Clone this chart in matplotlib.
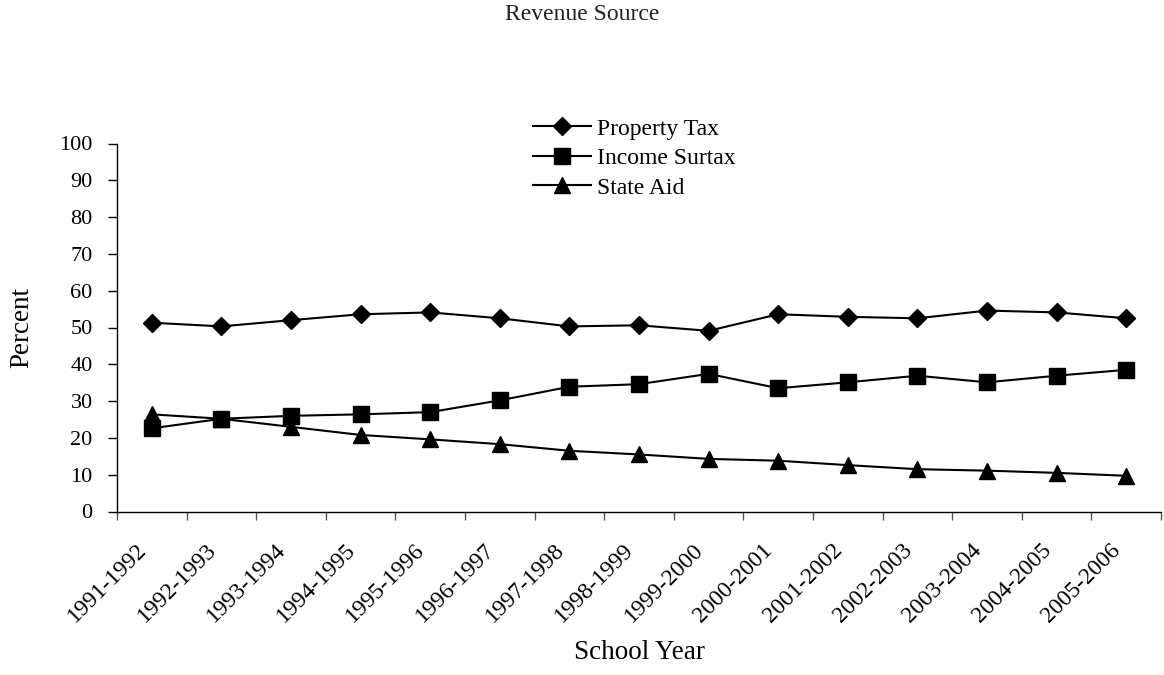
import matplotlib.pyplot as plt
import matplotlib.transforms as mtransforms
import numpy as np

# revenue shares by school year (percent)
years = ['1991-1992', '1992-1993', '1993-1994', '1994-1995', '1995-1996',
         '1996-1997', '1997-1998', '1998-1999', '1999-2000', '2000-2001',
         '2001-2002', '2002-2003', '2003-2004', '2004-2005', '2005-2006']
property_tax = [51.3, 50.3, 52.0, 53.6, 54.1, 52.5, 50.3, 50.6, 49.1, 53.6,
                52.9, 52.5, 54.6, 54.1, 52.5]
income_surtax = [22.6, 25.2, 26.0, 26.4, 27.0, 30.2, 33.9, 34.6, 37.4, 33.5,
                 35.1, 36.9, 35.1, 36.9, 38.5]
state_aid = [26.4, 25.2, 23.0, 20.8, 19.6, 18.3, 16.5, 15.5, 14.3, 13.8,
             12.6, 11.5, 11.1, 10.5, 9.7]

plt.rcParams['font.family'] = ['Liberation Serif', 'DejaVu Serif']

fig = plt.figure(figsize=(11.64, 6.75), dpi=100)
ax = fig.add_axes([117 / 1164, 1 - 511.5 / 675, 1044 / 1164, 368 / 675])

x = np.arange(len(years))
ax.plot(x, property_tax, color='black', lw=1.5, marker='D', ms=8.7, label='Property Tax')
ax.plot(x, income_surtax, color='black', lw=1.5, marker='s', ms=11.5, label='Income Surtax')
ax.plot(x, state_aid, color='black', lw=1.5, marker='^', ms=12, label='State Aid')

ax.set_xlim(-0.5, len(years) - 0.5)
ax.set_ylim(0, 100)
ax.set_yticks(range(0, 101, 10))
ax.tick_params(axis='y', labelsize=16, length=6.5, width=1, pad=11)

# category labels at centres, tick marks on the boundaries
ax.set_xticks(x)
ax.set_xticklabels(years, rotation=45, ha='right', rotation_mode='anchor', fontsize=17)
ax.tick_params(axis='x', length=0, pad=20)
shift = mtransforms.ScaledTranslation(-0.16, 0, fig.dpi_scale_trans)
for lbl in ax.get_xticklabels():
    lbl.set_transform(lbl.get_transform() + shift)
ax.set_xticks(np.arange(-0.5, len(years)), minor=True)
ax.tick_params(axis='x', which='minor', length=6, width=1, color='#555555')

for side in ['top', 'right']:
    ax.spines[side].set_visible(False)
ax.spines['left'].set_linewidth(1)
ax.spines['bottom'].set_linewidth(1)

ax.set_ylabel('Percent', fontsize=19.5)
ax.yaxis.set_label_coords(-0.079, 0.5)
ax.set_xlabel('School Year', fontsize=19.5)
ax.xaxis.set_label_coords(0.5, -0.35)
fig.text(0.5, 1 - 15 / 675, 'Revenue Source', ha='center', va='center', fontsize=17, color='#222222')

ax.legend(loc='upper left', bbox_to_anchor=(533 / 1164, 1 - 118 / 675),
          bbox_transform=fig.transFigure, frameon=False, fontsize=17,
          handlelength=2.45, handletextpad=0.25, labelspacing=0.34,
          borderpad=0, borderaxespad=0)

fig.savefig('out.png', dpi=100)
